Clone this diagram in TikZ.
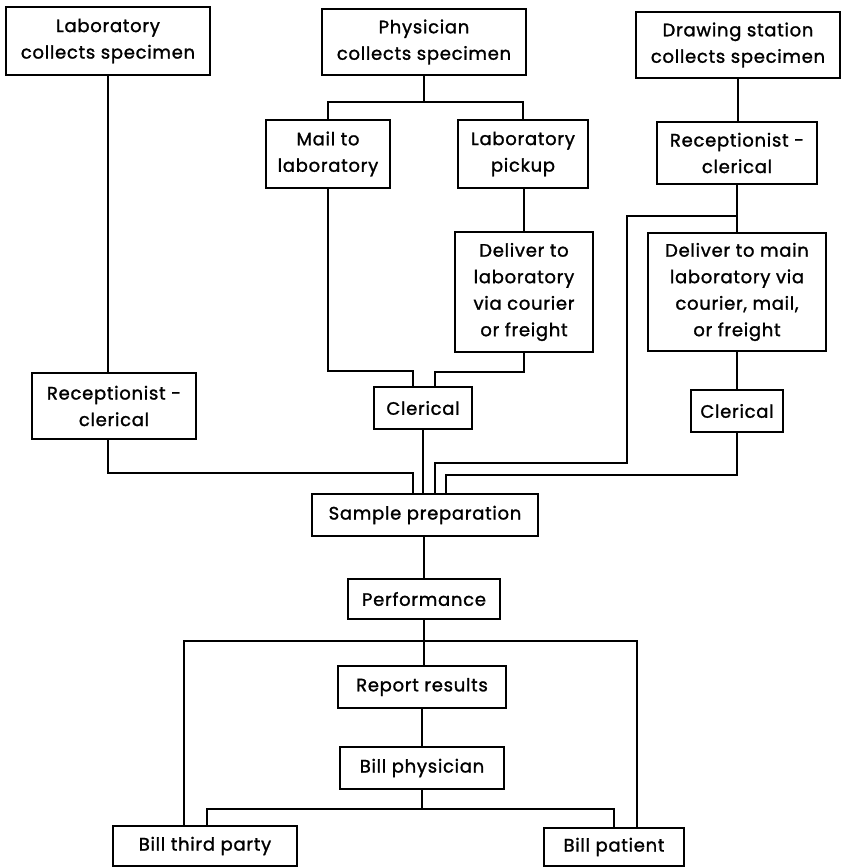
\documentclass[tikz,border=0pt]{standalone}
\usepackage{fontspec}
\setmainfont{Poppins}[FakeBold=1.4,LetterSpace=4]
\begin{document}
\begin{tikzpicture}[x=1pt,y=-1pt,
  box/.style={draw,line width=1.8pt,rectangle,inner sep=0pt,align=center,
    font=\fontsize{18}{26.5}\selectfont},
  conn/.style={line width=1.8pt}]
\useasboundingbox (0,0) rectangle (843,868);
% boxes
\node[box,minimum width=204,minimum height=68] (labc) at (108,41) {Laboratory\\collects specimen};
\node[box,minimum width=204,minimum height=66] (phys) at (424,42) {Physician\\collects specimen};
\node[box,minimum width=204,minimum height=66] (draw) at (738,45) {Drawing station\\collects specimen};
\node[box,minimum width=124,minimum height=68] (mail) at (328,154) {Mail to\\laboratory};
\node[box,minimum width=130,minimum height=68] (pick) at (523,154) {Laboratory\\pickup};
\node[box,minimum width=160,minimum height=62] (recR) at (737,153) {Receptionist -\\clerical};
\node[box,minimum width=138,minimum height=120] (delL) at (524,292) {Deliver to\\laboratory\\via courier\\or freight};
\node[box,minimum width=178,minimum height=118] (delM) at (737,292) {Deliver to main\\laboratory via\\courier, mail,\\or freight};
\node[box,minimum width=164,minimum height=66] (recL) at (114,406) {Receptionist -\\clerical};
\node[box,minimum width=98,minimum height=42] (clM) at (423,408) {Clerical};
\node[box,minimum width=92,minimum height=42] (clR) at (737,411) {Clerical};
\node[box,minimum width=226,minimum height=42] (samp) at (425,515) {Sample preparation};
\node[box,minimum width=152,minimum height=40] (perf) at (424,599) {Performance};
\node[box,minimum width=168,minimum height=42] (rep) at (422,687) {Report results};
\node[box,minimum width=164,minimum height=42] (billp) at (422,768) {Bill physician};
\node[box,minimum width=184,minimum height=40] (bt) at (205,846) {Bill third party};
\node[box,minimum width=140,minimum height=38] (bpat) at (614,847) {Bill patient};
% junction coordinates
\coordinate (pj) at (424,102);
\coordinate (mj) at (328,371);
\coordinate (mj2) at (413,371);
\coordinate (dj) at (524,372);
\coordinate (dj2) at (435,372);
\coordinate (rj) at (737,216);
\coordinate (rj2) at (627,216);
\coordinate (rj3) at (627,463);
\coordinate (rj4) at (435,463);
\coordinate (lj) at (108,473);
\coordinate (lj2) at (413,473);
\coordinate (cj) at (737,475);
\coordinate (cj2) at (446,475);
\coordinate (pf) at (424,641);
\coordinate (pfl) at (184,641);
\coordinate (pfr) at (637,641);
\coordinate (bj) at (422,809);
\coordinate (bjl) at (207,809);
\coordinate (bjr) at (614,809);
% connectors
\draw[conn] (labc.south) -- (labc.south |- recL.north);
\draw[conn] (phys.south) -- (pj);
\draw[conn] (mail.north) |- (pj) -| (pick.north);
\draw[conn] (pick.south -| dj) -- (delL.north -| dj);
\draw[conn] (draw.south) -- (recR.north -| draw.south);
\draw[conn] (recR.south) -- (delM.north -| recR.south);
\draw[conn] (rj) -- (rj2) -- (rj3) -- (rj4) -- (samp.north -| rj4);
\draw[conn] (mail.south) -- (mj) -- (mj2) -- (clM.north -| mj2);
\draw[conn] (delL.south -| dj) -- (dj) -- (dj2) -- (clM.north -| dj2);
\draw[conn] (clM.south) -- (samp.north -| clM.south);
\draw[conn] (recL.south -| lj) -- (lj) -- (lj2) -- (samp.north -| lj2);
\draw[conn] (delM.south -| cj) -- (clR.north -| cj);
\draw[conn] (clR.south -| cj) -- (cj) -- (cj2) -- (samp.north -| cj2);
\draw[conn] (samp.south -| perf.north) -- (perf.north);
\draw[conn] (perf.south) -- (pf);
\draw[conn] (bt.north -| pfl) -- (pfl) -- (pfr) -- (bpat.north -| pfr);
\draw[conn] (pf) -- (rep.north -| pf);
\draw[conn] (rep.south) -- (billp.north);
\draw[conn] (billp.south) -- (bj);
\draw[conn] (bt.north -| bjl) -- (bjl) -- (bjr) -- (bpat.north -| bjr);
\end{tikzpicture}
\end{document}
